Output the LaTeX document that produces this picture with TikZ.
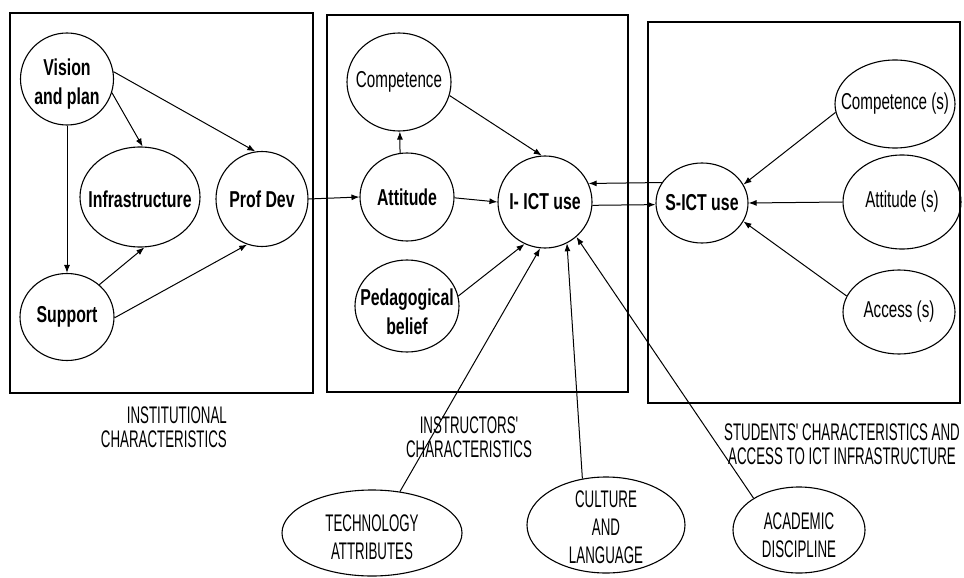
\documentclass[tikz,border=0pt]{standalone}
\usepackage{fontspec}
\newfontfamily\ovalfont{Liberation Sans}[FakeStretch=0.69]
\newfontfamily\plainfont{Liberation Sans}[FakeStretch=0.66]
\newfontfamily\capfont{Liberation Sans}[FakeStretch=0.555]
\usetikzlibrary{shapes.geometric,arrows.meta}
\begin{document}
\begin{tikzpicture}[x=1pt,y=-1pt,
    oval/.style={draw, ellipse, line width=1.1pt, inner sep=0pt},
    bold/.style={font=\ovalfont\bfseries\fontsize{23}{29}\selectfont, align=center, inner sep=0pt},
    plain/.style={font=\plainfont\fontsize{23}{29}\selectfont, align=center, inner sep=0pt},
    caps/.style={font=\capfont\fontsize{24}{28}\selectfont, align=center, inner sep=0pt},
    caption/.style={font=\capfont\fontsize{24}{24}\selectfont, inner sep=0pt},
    link/.style={-{Latex[length=8pt,width=6pt]}, line width=1pt}]
  \useasboundingbox (0,0) rectangle (964,578);
  % Cajas
  \draw[line width=1.2pt] (10,13) rectangle (313,393);
  \draw[line width=1.2pt] (327,15) rectangle (628,392);
  \draw[line width=1.2pt] (648,22) rectangle (960,403);
  % Caracteristicas institucionales
  \node[oval, minimum width=93pt, minimum height=92pt, label={[bold, yshift=-5pt]center:{Vision\\and plan}}] (vision) at (67,79) {};
  \node[oval, minimum width=120pt, minimum height=100pt, label={[bold, yshift=-2pt]center:Infrastructure}] (infra) at (140,197) {};
  \node[oval, minimum width=92pt, minimum height=95pt, label={[bold]center:Prof Dev}] (profdev) at (262,199) {};
  \node[oval, minimum width=94pt, minimum height=87pt, label={[bold]center:Support}] (support) at (67,317) {};
  \draw[link] (vision.-90) -- (support.90);
  \draw[link] (vision.-17) -- (infra.87);
  \draw[link] (vision.9) -- (profdev.98);
  \draw[link] (support.45) -- (infra.-85);
  \draw[link] (support.-1) -- (profdev.-108);
  % Caracteristicas de los instructores
  \node[oval, minimum width=104pt, minimum height=98pt, label={[plain]center:Competence}] (comp) at (399,82) {};
  \node[oval, minimum width=94pt, minimum height=88pt, label={[bold]center:Attitude}] (att) at (407,197) {};
  \node[oval, minimum width=94pt, minimum height=92pt, label={[bold]center:I- ICT use}] (iict) at (545,202) {};
  \node[oval, minimum width=104pt, minimum height=92pt, label={[bold, yshift=-6pt]center:{Pedagogical\\belief}}] (ped) at (407,306) {};
  \draw[link] (profdev.east) -- (att.west);
  \draw[link] (att.99) -- (comp.-89);
  \draw[link] (att.-1) -- (iict.180);
  \draw[link] (comp.-15) -- (iict.94);
  \draw[link] (ped.11) -- (iict.-116);
  % Caracteristicas de los estudiantes
  \node[oval, minimum width=92pt, minimum height=80pt, label={[bold]center:S-ICT use}] (sict) at (702,203) {};
  \node[oval, minimum width=120pt, minimum height=88pt, label={[plain]center:Competence (s)}] (comps) at (895,104) {};
  \node[oval, minimum width=118pt, minimum height=94pt, label={[plain]center:Attitude (s)}] (atts) at (902,202) {};
  \node[oval, minimum width=112pt, minimum height=84pt, label={[plain]center:Access (s)}] (access) at (899,312) {};
  \draw[link] (sict.153) -- (iict.23);
  \draw[link] (iict.-4) -- (sict.182);
  \draw[link] (comps.188) -- (sict.24);
  \draw[link] (atts.west) -- (sict.east);
  \draw[link] (access.163) -- (sict.-24);
  % Factores externos
  \node[oval, minimum width=180pt, minimum height=86pt, label={[caps, yshift=-4pt]center:{TECHNOLOGY\\ATTRIBUTES}}] (tech) at (372,533) {};
  \node[oval, minimum width=158pt, minimum height=96pt, label={[caps, yshift=-2pt]center:{CULTURE\\AND\\LANGUAGE}}] (culture) at (606,525) {};
  \node[oval, minimum width=132pt, minimum height=86pt, label={[caps, yshift=-5pt]center:{ACADEMIC\\DISCIPLINE}}] (academic) at (799,530) {};
  \draw[link] (tech.56) -- (iict.-96);
  \draw[link] (culture.117) -- (iict.-62);
  \draw[link] (academic.145) -- (iict.-48);
  % Titulos
  \node[caption, align=right, anchor=east] (instlabel) at (227,427) {INSTITUTIONAL\\CHARACTERISTICS};
  \node[caption, align=center] (instrlabel) at (469,437) {INSTRUCTORS'\\CHARACTERISTICS};
  \node[caption, align=center] (studlabel) at (842,444) {STUDENTS' CHARACTERISTICS AND\\ACCESS TO ICT INFRASTRUCTURE};
\end{tikzpicture}
\end{document}
